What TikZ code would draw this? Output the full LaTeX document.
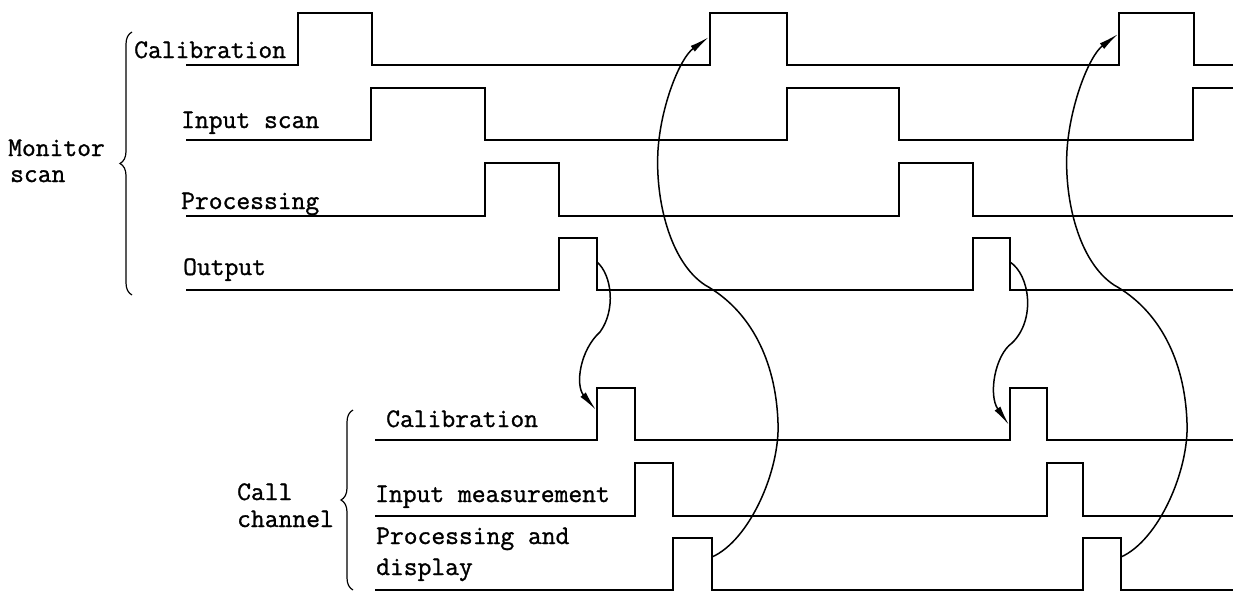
\documentclass[tikz,border=0pt]{standalone}
\usepackage{fontspec}
\usetikzlibrary{arrows.meta,decorations.pathreplacing}
\newfontfamily\labelfont[FakeBold=1.1]{Latin Modern Mono}
\begin{document}
\begin{tikzpicture}[x=1pt,y=-1pt,
  wave/.style={line width=2.9pt},
  link/.style={line width=1.5pt,-{Latex[length=20pt,width=7pt]}},
  grp/.style={line width=1.2pt,decorate,decoration={brace,amplitude=12pt}},
  lbl/.style={anchor=base west,inner sep=0pt,font=\labelfont\fontsize{26.8pt}{30pt}\selectfont}]
\useasboundingbox (0,0) rectangle (1236,592);

% ---- monitor scan waveforms
\draw[wave] (186,65) -- (298,65) -- (298,13) -- (372,13) -- (372,65) -- (710,65) -- (710,13)
  -- (787,13) -- (787,65) -- (1119,65) -- (1119,13) -- (1194,13) -- (1194,65) -- (1233,65);
\draw[wave] (186,140) -- (371,140) -- (371,88) -- (485,88) -- (485,140) -- (787,140) -- (787,88)
  -- (899,88) -- (899,140) -- (1193,140) -- (1193,88) -- (1233,88);
\draw[wave] (186,216) -- (485,216) -- (485,163) -- (559,163) -- (559,216) -- (899,216) -- (899,163)
  -- (973,163) -- (973,216) -- (1233,216);
\draw[wave] (186,290) -- (559,290) -- (559,238) -- (597,238) -- (597,290) -- (973,290) -- (973,238)
  -- (1010,238) -- (1010,290) -- (1233,290);

% ---- call channel waveforms
\draw[wave] (375,440) -- (597,440) -- (597,388) -- (635,388) -- (635,440) -- (1010,440) -- (1010,388)
  -- (1047,388) -- (1047,440) -- (1233,440);
\draw[wave] (375,516) -- (635,516) -- (635,463) -- (673,463) -- (673,516) -- (1047,516) -- (1047,463)
  -- (1083,463) -- (1083,516) -- (1233,516);
\draw[wave] (375,590) -- (673,590) -- (673,538) -- (712,538) -- (712,590) -- (1083,590) -- (1083,538)
  -- (1121,538) -- (1121,590) -- (1233,590);

% ---- signal edges joined by the arrows
\coordinate (mOut1) at (597,262);
\coordinate (cCal1) at (596,410);
\coordinate (mOut2) at (1010,262);
\coordinate (cCal2) at (1009,425);
\coordinate (cPro1) at (712,557);
\coordinate (mCal1) at (709,37);
\coordinate (cPro2) at (1121,557);
\coordinate (mCal2) at (1118,34);

% output -> call calibration
\draw[link] (mOut1) .. controls (612,275) and (616,310) .. (600,332)
  .. controls (580,350) and (575,385) .. (cCal1);
\draw[link] (mOut2) .. controls (1030,275) and (1036,320) .. (1012,343)
  .. controls (995,355) and (988,395) .. (cCal2);

% processing and display -> next calibration
\draw[link] (cPro1) .. controls (750,540) and (780,470) .. (778,423)
  .. controls (776,360) and (750,310) .. (705,285)
  .. controls (670,262) and (655,200) .. (658,150)
  .. controls (661,105) and (680,58) .. (mCal1);
\draw[link] (cPro2) .. controls (1159,540) and (1189,470) .. (1187,423)
  .. controls (1185,360) and (1159,310) .. (1114,285)
  .. controls (1079,262) and (1064,200) .. (1067,150)
  .. controls (1070,105) and (1089,56) .. (mCal2);

% ---- group braces
\draw[grp] (132,295) -- (132,32);
\draw[grp] (353,590) -- (353,410);

% ---- labels
\node[lbl] (tCalM)  at (134,58)  {Calibration};
\node[lbl] (tInS)   at (181,128) {Input scan};
\node[lbl] (tProM)  at (181,209) {Processing};
\node[lbl] (tOut)   at (183,275) {Output};
\node[lbl] (tCalC)  at (386,427) {Calibration};
\node[lbl] (tInM)   at (375,502) {Input measurement};
\node[lbl] (tProC1) at (376,544) {Processing and};
\node[lbl] (tProC2) at (376,575) {display};
\node[lbl] (tMon1)  at (8,156)   {Monitor};
\node[lbl] (tMon2)  at (10,182)  {scan};
\node[lbl] (tCall1) at (237,500) {Call};
\node[lbl] (tCall2) at (237,527) {channel};
\end{tikzpicture}
\end{document}
